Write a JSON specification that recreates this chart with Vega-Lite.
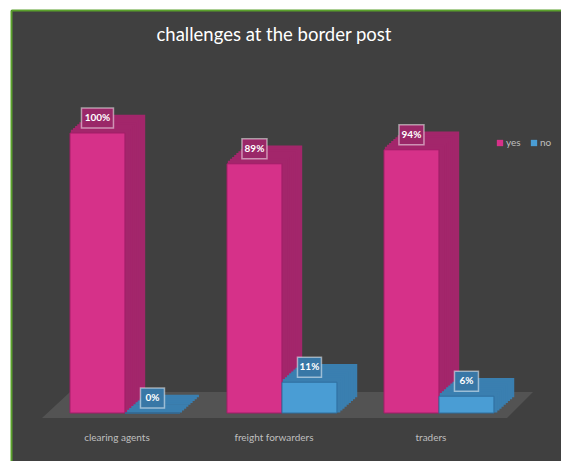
{
  "$schema": "https://vega.github.io/schema/vega-lite/v6.json",
  "width": 561,
  "height": 461,
  "autosize": {"type": "fit", "contains": "padding"},
  "padding": {"left": 11, "top": 10, "right": 0, "bottom": 0},
  "background": "#ffffff",
  "config": {
    "view": {"fill": "#404040", "stroke": null},
    "font": "Lato"
  },
  "title": {
    "text": "challenges at the border post",
    "color": "#ffffff",
    "fontSize": 18.5,
    "font": "Lato",
    "fontWeight": "normal",
    "anchor": "middle",
    "dx": -12,
    "offset": -49,
    "baseline": "alphabetic"
  },
  "data": {
    "values": [
      {"cat": "clearing agents", "answer": "yes", "value": 1.0},
      {"cat": "clearing agents", "answer": "no", "value": 0.0},
      {"cat": "freight forwarders", "answer": "yes", "value": 0.89},
      {"cat": "freight forwarders", "answer": "no", "value": 0.11},
      {"cat": "traders", "answer": "yes", "value": 0.94},
      {"cat": "traders", "answer": "no", "value": 0.06}
    ]
  },
  "encoding": {
    "x": {"field": "cat", "type": "nominal", "scale": {"type": "band", "domain": ["clearing agents", "freight forwarders", "traders"], "paddingInner": 0.3, "paddingOuter": 0.4016, "align": 0.468}, "axis": null},
    "y": {"field": "value", "type": "quantitative", "scale": {"domain": [-0.1714, 1.4393], "nice": false, "zero": false}, "axis": null}
  },
  "resolve": {"scale": {"x": "independent"}, "axis": {"y": "independent"}},
  "layer": [
    {
      "data": {"values": [
        {"fx": 5.64, "fy": -0.0179, "fy2": -0.0179},
        {"fx": 10.73, "fy": -0.0179, "fy2": 0.075},
        {"fx": 90.18, "fy": -0.0179, "fy2": 0.075},
        {"fx": 94.91, "fy": 0.075, "fy2": 0.075}
      ]},
      "mark": {"type": "area", "color": "#535353", "orient": "vertical"},
      "encoding": {
        "x": {"field": "fx", "type": "quantitative", "scale": {"domain": [0, 100], "nice": false, "zero": false}, "axis": {"orient": "top", "domain": true, "domainColor": "#5aa02c", "domainWidth": 2, "labels": false, "ticks": false, "grid": false, "title": null}},
        "y": {"field": "fy", "type": "quantitative", "scale": {"domain": [-0.1714, 1.4393], "nice": false, "zero": false}, "axis": {"orient": "left", "domain": true, "domainColor": "#5aa02c", "domainWidth": 2, "labels": false, "ticks": false, "grid": false, "title": null}},
        "y2": {"field": "fy2"}
      }
    },
    {"transform": [{"filter": "datum.answer==='yes'"}], "mark": {"type": "bar", "width": {"band": 0.5}, "xOffset": -8.5, "x2Offset": -8.5, "yOffset": -17, "y2Offset": -17, "fill": "#a3266b", "stroke": "#a3266b", "strokeWidth": 2.5}, "encoding": {"y2": {"datum": 0}}},
    {"transform": [{"filter": "datum.answer==='yes'"}], "mark": {"type": "bar", "width": {"band": 0.5}, "xOffset": -10.61, "x2Offset": -10.61, "yOffset": -15.11, "y2Offset": -15.11, "fill": "#a3266b", "stroke": "#a3266b", "strokeWidth": 2.5}, "encoding": {"y2": {"datum": 0}}},
    {"transform": [{"filter": "datum.answer==='yes'"}], "mark": {"type": "bar", "width": {"band": 0.5}, "xOffset": -12.72, "x2Offset": -12.72, "yOffset": -13.22, "y2Offset": -13.22, "fill": "#a3266b", "stroke": "#a3266b", "strokeWidth": 2.5}, "encoding": {"y2": {"datum": 0}}},
    {"transform": [{"filter": "datum.answer==='yes'"}], "mark": {"type": "bar", "width": {"band": 0.5}, "xOffset": -14.83, "x2Offset": -14.83, "yOffset": -11.33, "y2Offset": -11.33, "fill": "#a3266b", "stroke": "#a3266b", "strokeWidth": 2.5}, "encoding": {"y2": {"datum": 0}}},
    {"transform": [{"filter": "datum.answer==='yes'"}], "mark": {"type": "bar", "width": {"band": 0.5}, "xOffset": -16.94, "x2Offset": -16.94, "yOffset": -9.44, "y2Offset": -9.44, "fill": "#a3266b", "stroke": "#a3266b", "strokeWidth": 2.5}, "encoding": {"y2": {"datum": 0}}},
    {"transform": [{"filter": "datum.answer==='yes'"}], "mark": {"type": "bar", "width": {"band": 0.5}, "xOffset": -19.06, "x2Offset": -19.06, "yOffset": -7.56, "y2Offset": -7.56, "fill": "#a3266b", "stroke": "#a3266b", "strokeWidth": 2.5}, "encoding": {"y2": {"datum": 0}}},
    {"transform": [{"filter": "datum.answer==='yes'"}], "mark": {"type": "bar", "width": {"band": 0.5}, "xOffset": -21.17, "x2Offset": -21.17, "yOffset": -5.67, "y2Offset": -5.67, "fill": "#a3266b", "stroke": "#a3266b", "strokeWidth": 2.5}, "encoding": {"y2": {"datum": 0}}},
    {"transform": [{"filter": "datum.answer==='yes'"}], "mark": {"type": "bar", "width": {"band": 0.5}, "xOffset": -23.28, "x2Offset": -23.28, "yOffset": -3.78, "y2Offset": -3.78, "fill": "#a3266b", "stroke": "#a3266b", "strokeWidth": 2.5}, "encoding": {"y2": {"datum": 0}}},
    {"transform": [{"filter": "datum.answer==='yes'"}], "mark": {"type": "bar", "width": {"band": 0.5}, "xOffset": -25.39, "x2Offset": -25.39, "yOffset": -1.89, "y2Offset": -1.89, "fill": "#a3266b", "stroke": "#a3266b", "strokeWidth": 2.5}, "encoding": {"y2": {"datum": 0}}},
    {
      "transform": [{"filter": "datum.answer==='yes'"}],
      "mark": {"type": "bar", "width": {"band": 0.5}, "xOffset": -27.5, "x2Offset": -27.5, "stroke": "#a11f68", "strokeWidth": 1},
      "encoding": {
        "x": {"field": "cat", "type": "nominal", "scale": {"type": "band", "domain": ["clearing agents", "freight forwarders", "traders"], "paddingInner": 0.3, "paddingOuter": 0.4016, "align": 0.468}, "axis": {"orient": "bottom", "offset": -31, "domain": false, "ticks": false, "tickSize": 0, "labelPadding": 2, "labelOffset": -8, "labelColor": "#bfbfbf", "labelFontSize": 10, "labelFont": "Lato", "labelAngle": 0, "title": null, "grid": false}},
        "y2": {"datum": 0},
        "color": {"field": "answer", "type": "nominal", "scale": {"domain": ["yes", "no"], "range": ["#d63189", "#4a9dd4"]}, "legend": {"orient": "none", "legendX": 484, "legendY": 128, "direction": "horizontal", "title": null, "symbolType": "square", "symbolSize": 40, "symbolStrokeWidth": 0, "labelColor": "#bfbfbf", "labelFontSize": 10, "labelFont": "Lato", "columnPadding": 8, "padding": 0, "labelOffset": 1}}
      }
    },
    {"transform": [{"filter": "datum.answer==='no'"}], "mark": {"type": "bar", "width": {"band": 0.5}, "xOffset": 46.5, "x2Offset": 46.5, "yOffset": -17, "y2Offset": -17, "fill": "#3a7fb0", "stroke": "#3a7fb0", "strokeWidth": 2.6}, "encoding": {"y2": {"datum": 0}}},
    {"transform": [{"filter": "datum.answer==='no'"}], "mark": {"type": "bar", "width": {"band": 0.5}, "xOffset": 44.39, "x2Offset": 44.39, "yOffset": -15.11, "y2Offset": -15.11, "fill": "#3a7fb0", "stroke": "#3a7fb0", "strokeWidth": 2.6}, "encoding": {"y2": {"datum": 0}}},
    {"transform": [{"filter": "datum.answer==='no'"}], "mark": {"type": "bar", "width": {"band": 0.5}, "xOffset": 42.28, "x2Offset": 42.28, "yOffset": -13.22, "y2Offset": -13.22, "fill": "#3a7fb0", "stroke": "#3a7fb0", "strokeWidth": 2.6}, "encoding": {"y2": {"datum": 0}}},
    {"transform": [{"filter": "datum.answer==='no'"}], "mark": {"type": "bar", "width": {"band": 0.5}, "xOffset": 40.17, "x2Offset": 40.17, "yOffset": -11.33, "y2Offset": -11.33, "fill": "#3a7fb0", "stroke": "#3a7fb0", "strokeWidth": 2.6}, "encoding": {"y2": {"datum": 0}}},
    {"transform": [{"filter": "datum.answer==='no'"}], "mark": {"type": "bar", "width": {"band": 0.5}, "xOffset": 38.06, "x2Offset": 38.06, "yOffset": -9.44, "y2Offset": -9.44, "fill": "#3a7fb0", "stroke": "#3a7fb0", "strokeWidth": 2.6}, "encoding": {"y2": {"datum": 0}}},
    {"transform": [{"filter": "datum.answer==='no'"}], "mark": {"type": "bar", "width": {"band": 0.5}, "xOffset": 35.94, "x2Offset": 35.94, "yOffset": -7.56, "y2Offset": -7.56, "fill": "#3a7fb0", "stroke": "#3a7fb0", "strokeWidth": 2.6}, "encoding": {"y2": {"datum": 0}}},
    {"transform": [{"filter": "datum.answer==='no'"}], "mark": {"type": "bar", "width": {"band": 0.5}, "xOffset": 33.83, "x2Offset": 33.83, "yOffset": -5.67, "y2Offset": -5.67, "fill": "#3a7fb0", "stroke": "#3a7fb0", "strokeWidth": 2.6}, "encoding": {"y2": {"datum": 0}}},
    {"transform": [{"filter": "datum.answer==='no'"}], "mark": {"type": "bar", "width": {"band": 0.5}, "xOffset": 31.72, "x2Offset": 31.72, "yOffset": -3.78, "y2Offset": -3.78, "fill": "#3a7fb0", "stroke": "#3a7fb0", "strokeWidth": 2.6}, "encoding": {"y2": {"datum": 0}}},
    {"transform": [{"filter": "datum.answer==='no'"}], "mark": {"type": "bar", "width": {"band": 0.5}, "xOffset": 29.61, "x2Offset": 29.61, "yOffset": -1.89, "y2Offset": -1.89, "fill": "#3a7fb0", "stroke": "#3a7fb0", "strokeWidth": 2.6}, "encoding": {"y2": {"datum": 0}}},
    {
      "transform": [{"filter": "datum.answer==='no'"}],
      "mark": {"type": "bar", "width": {"band": 0.5}, "xOffset": 27.5, "x2Offset": 27.5, "stroke": "#2f6f9f", "strokeWidth": 1},
      "encoding": {
        "y2": {"datum": 0},
        "color": {"field": "answer", "type": "nominal", "scale": {"domain": ["yes", "no"], "range": ["#d63189", "#4a9dd4"]}, "legend": {"orient": "none", "legendX": 484, "legendY": 128, "direction": "horizontal", "title": null, "symbolType": "square", "symbolSize": 40, "symbolStrokeWidth": 0, "labelColor": "#bfbfbf", "labelFontSize": 10, "labelFont": "Lato", "columnPadding": 8, "padding": 0, "labelOffset": 1}}
      }
    },
    {"transform": [{"filter": "datum.answer==='yes' && datum.value < 1"}], "mark": {"type": "bar", "width": 25, "xOffset": -27.5, "x2Offset": -27.5, "yOffset": -25, "y2Offset": -5, "fill": "#9a2868", "stroke": "#ffffff", "strokeOpacity": 0.5, "strokeWidth": 1.5}, "encoding": {"y2": {"field": "value"}}},
    {"transform": [{"filter": "datum.answer==='yes' && datum.value >= 1"}], "mark": {"type": "bar", "width": 32, "xOffset": -27.5, "x2Offset": -27.5, "yOffset": -25, "y2Offset": -5, "fill": "#9a2868", "stroke": "#ffffff", "strokeOpacity": 0.5, "strokeWidth": 1.5}, "encoding": {"y2": {"field": "value"}}},
    {"transform": [{"filter": "datum.answer==='no'"}], "mark": {"type": "bar", "width": 24, "xOffset": 27.5, "x2Offset": 27.5, "yOffset": -25, "y2Offset": -5, "fill": "#3877a6", "stroke": "#ffffff", "strokeOpacity": 0.5, "strokeWidth": 1.5}, "encoding": {"y2": {"field": "value"}}},
    {"transform": [{"filter": "datum.answer==='yes'"}], "mark": {"type": "text", "xOffset": -27.5, "yOffset": -15, "color": "#ffffff", "fontWeight": "bold", "fontSize": 10, "font": "Lato", "baseline": "middle", "align": "center"}, "encoding": {"text": {"field": "value", "type": "quantitative", "format": ".0%"}}},
    {"transform": [{"filter": "datum.answer==='no'"}], "mark": {"type": "text", "xOffset": 27.5, "yOffset": -15, "color": "#ffffff", "fontWeight": "bold", "fontSize": 10, "font": "Lato", "baseline": "middle", "align": "center"}, "encoding": {"text": {"field": "value", "type": "quantitative", "format": ".0%"}}}
  ]
}
